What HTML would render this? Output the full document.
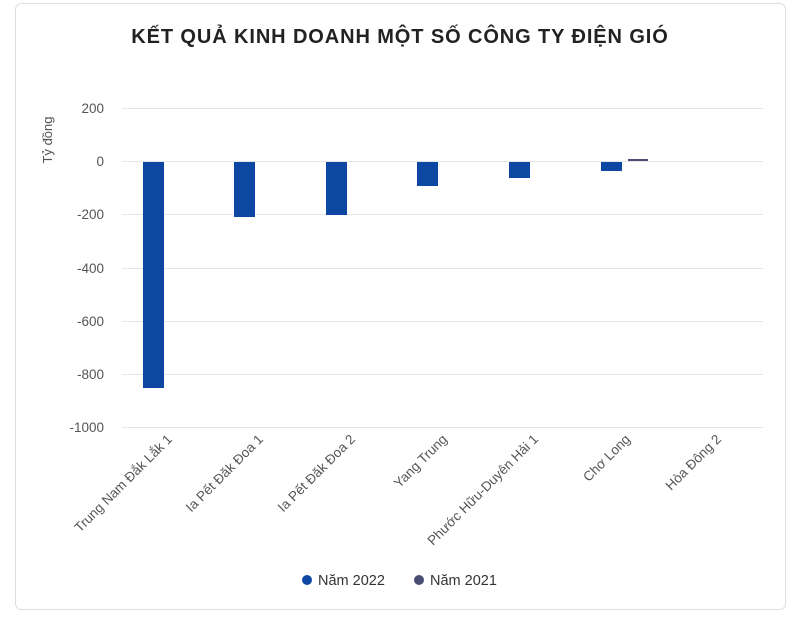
<!DOCTYPE html>
<html><head><meta charset="utf-8"><style>
body{margin:0;background:#fff;font-family:"Liberation Sans",sans-serif;}
</style></head><body>
<svg width="800" height="617" xmlns="http://www.w3.org/2000/svg" font-family="Liberation Sans, sans-serif">
<rect x="15.5" y="3.5" width="770" height="606" rx="6" fill="#fff" stroke="#ddd"/>
<text x="400" y="43" text-anchor="middle" font-size="20" font-weight="bold" fill="#222" letter-spacing="0.9">KẾT QUẢ KINH DOANH MỘT SỐ CÔNG TY ĐIỆN GIÓ</text>
<g stroke="#e6e6e6" stroke-width="1">
<line x1="122" x2="763" y1="108.5" y2="108.5"/>
<line x1="122" x2="763" y1="161.5" y2="161.5"/>
<line x1="122" x2="763" y1="214.5" y2="214.5"/>
<line x1="122" x2="763" y1="268.5" y2="268.5"/>
<line x1="122" x2="763" y1="321.5" y2="321.5"/>
<line x1="122" x2="763" y1="374.5" y2="374.5"/>
<line x1="122" x2="763" y1="427.5" y2="427.5"/>
</g>
<g font-size="13.5" fill="#555" text-anchor="end">
<text x="104" y="113">200</text>
<text x="104" y="166">0</text>
<text x="104" y="219">-200</text>
<text x="104" y="273">-400</text>
<text x="104" y="326">-600</text>
<text x="104" y="379">-800</text>
<text x="104" y="432">-1000</text>
</g>
<text transform="translate(52,140) rotate(-90)" text-anchor="middle" font-size="13" fill="#555">Tỷ đồng</text>
<g fill="#0d47a1">
<rect x="143" y="162" width="21" height="226"/>
<rect x="234" y="162" width="21" height="55"/>
<rect x="326" y="162" width="21" height="53"/>
<rect x="417" y="162" width="21" height="24"/>
<rect x="509" y="162" width="21" height="16"/>
<rect x="601" y="162" width="21" height="9"/>
</g>
<rect x="628" y="159" width="20" height="2" fill="#4a4e75"/>
<g font-size="13.5" fill="#555" text-anchor="end">
<text transform="translate(173,440) rotate(-45)">Trung Nam Đắk Lắk 1</text>
<text transform="translate(264,440) rotate(-45)">Ia Pết Đăk Đoa 1</text>
<text transform="translate(356,440) rotate(-45)">Ia Pết Đăk Đoa 2</text>
<text transform="translate(448,440) rotate(-45)">Yang Trung</text>
<text transform="translate(539,440) rotate(-45)">Phước Hữu-Duyên Hải 1</text>
<text transform="translate(631,440) rotate(-45)">Chơ Long</text>
<text transform="translate(722,440) rotate(-45)">Hòa Đông 2</text>
</g>
<circle cx="307" cy="580" r="5" fill="#0d47a1"/>
<text x="318" y="585" font-size="14.5" fill="#333">Năm 2022</text>
<circle cx="419" cy="580" r="5" fill="#4a4e75"/>
<text x="430" y="585" font-size="14.5" fill="#333">Năm 2021</text>
</svg>
</body></html>
